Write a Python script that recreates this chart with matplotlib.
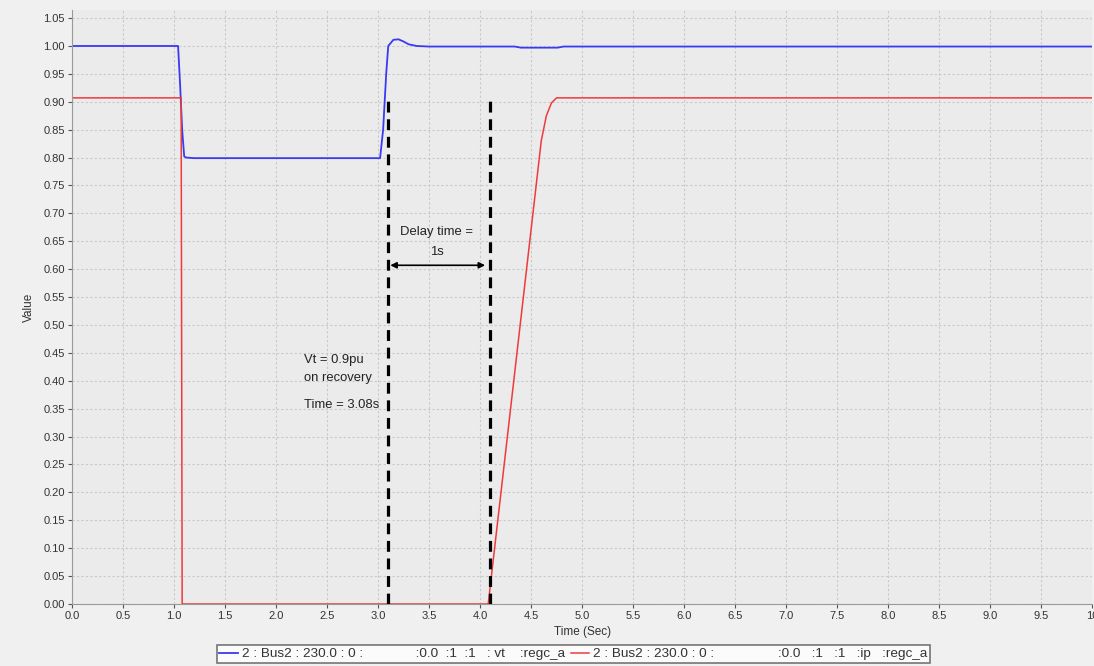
import matplotlib
matplotlib.use("Agg")
import matplotlib.pyplot as plt
import numpy as np

plt.rcParams['font.family'] = ['Liberation Sans', 'DejaVu Sans']

# Terminal voltage (vt) trace
vt_time = [0.0, 1.04, 1.06, 1.08, 1.10, 1.12, 1.20, 3.02, 3.05, 3.08, 3.10,
           3.15, 3.20, 3.25, 3.30, 3.38, 3.50, 4.34, 4.40, 4.76, 4.82, 10.0]
vt_value = [1.0, 1.0, 0.93, 0.85, 0.802, 0.800, 0.799, 0.799, 0.85, 0.95, 1.0,
            1.011, 1.012, 1.008, 1.003, 1.0, 0.999, 0.999, 0.997, 0.997, 0.999, 0.999]

# Active current command (ip) trace
ip_time = [0.0, 1.07, 1.08, 4.08, 4.60, 4.65, 4.70, 4.75, 10.0]
ip_value = [0.907, 0.907, 0.0, 0.0, 0.83, 0.875, 0.898, 0.907, 0.907]

# Markers for the recovery instant and the end of the delay
recovery_time = 3.1
delay_end = 4.1
marker_top = 0.905
arrow_level = 0.607

vt_label = ("2 : Bus2 : 230.0 : 0 :" + " " * 14 + ":0.0" + "  :1" + "  :1"
            + "   : vt" + "    :regc_a")
ip_label = ("2 : Bus2 : 230.0 : 0 :" + " " * 17 + ":0.0" + "   :1" + "   :1"
            + "   :ip" + "   :regc_a")

fig = plt.figure(figsize=(10.94, 6.66), dpi=100, facecolor='#f0f0f0')
ax = fig.add_axes([0.0658, 0.0931, 0.9325, 0.8919])
ax.set_facecolor('#ebebeb')

l1, = ax.plot(vt_time, vt_value, color='#3a3af0', lw=1.3)
l2, = ax.plot(ip_time, ip_value, color='#f03a3a', lw=1.1)

for xv in (recovery_time, delay_end):
    ax.plot([xv, xv], [0, marker_top], color='black', lw=2.3,
            linestyle=(0, (3.4, 2.1)), zorder=4)

ax.annotate('', xy=(recovery_time + 0.02, arrow_level),
            xytext=(delay_end - 0.05, arrow_level),
            arrowprops=dict(arrowstyle='<|-|>', color='black', lw=1.2,
                            mutation_scale=9, shrinkA=0, shrinkB=0))

kw = dict(fontsize=9.4, color='#222222', va='center')
ax.text(3.575, 0.667, "Delay time =", ha='center', **kw)
ax.text(3.575, 0.631, "1s", ha='center', **kw)
ax.text(2.27, 0.437, "Vt = 0.9pu", ha='left', **kw)
ax.text(2.27, 0.405, "on recovery", ha='left', **kw)
ax.text(2.27, 0.357, "Time = 3.08s", ha='left', **kw)

ax.set_xlim(0, 10.0)
ax.set_ylim(0, 1.0645)
ax.set_xticks(np.arange(0, 10.01, 0.5))
ax.set_xticklabels([f"{v:.1f}" if v < 10 else "10" for v in np.arange(0, 10.01, 0.5)])
ax.set_yticks(np.arange(0, 1.051, 0.05))
ax.set_yticklabels([f"{v:.2f}" for v in np.arange(0, 1.051, 0.05)])
ax.tick_params(labelsize=8, colors='#555555', labelcolor='#333333', length=3, pad=2)
ax.grid(True, color='#c8c8c8', linestyle=(0, (2, 2)), lw=0.8)

for side in ('top', 'right'):
    ax.spines[side].set_visible(False)
for side in ('left', 'bottom'):
    ax.spines[side].set_color('#9a9a9a')

ax.set_xlabel("Time (Sec)", fontsize=8.5, color='#333333', labelpad=4)
ax.set_ylabel("Value", fontsize=8.5, color='#333333', labelpad=6)

leg = fig.legend([l1, l2], [vt_label, ip_label], loc='center', ncol=2,
                 bbox_to_anchor=(0.524, 0.018), fontsize=9.7, frameon=True,
                 fancybox=False, edgecolor='#555555', handlelength=1.35,
                 handletextpad=0.3, columnspacing=0.45, borderpad=0.2,
                 labelcolor='#333333')
leg.get_frame().set_linewidth(1.2)
leg.get_frame().set_facecolor('white')

fig.savefig('out.png', dpi=100, facecolor=fig.get_facecolor())
